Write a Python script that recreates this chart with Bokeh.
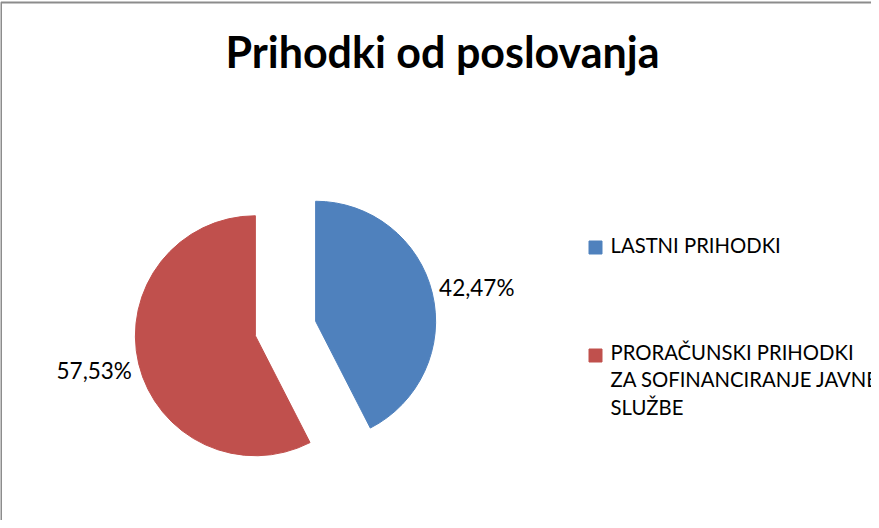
import numpy as np
from bokeh.plotting import figure
from bokeh.models import Range1d
from bokeh.core.properties import value
from bokeh.embed import file_html
from bokeh.resources import INLINE

# ---- data ----
title_text = "Prihodki od poslovanja"
categories = ["LASTNI PRIHODKI", "PRORAČUNSKI PRIHODKI ZA SOFINANCIRANJE JAVNE SLUŽBE"]
legend_lines = [["LASTNI PRIHODKI"], ["PRORAČUNSKI PRIHODKI", "ZA SOFINANCIRANJE JAVNE", "SLUŽBE"]]
shares = [42.47, 57.53]
labels = ["42,47%", "57,53%"]
colors = ["#4F81BD", "#C0504D"]

W, H = 871, 520
FONT = "Lato"

p = figure(width=W, height=H, output_backend="svg", toolbar_location=None,
           x_range=Range1d(0, W), y_range=Range1d(0, H), min_border=0)
p.axis.visible = False
p.grid.visible = False
p.outline_line_color = None
p.background_fill_color = "white"
p.border_fill_color = "white"

def sy(y):  # page-pixel y to data y
    return H - (y - 8)

# chart border (extends beyond the visible window on right & bottom)
p.quad(left=[0.5], right=[3000], top=[sy(10)], bottom=[-3000],
       fill_color=None, line_color="#8C8C8C", line_width=2)

# title
p.text(x=[442], y=[sy(59)], text=[title_text], text_font=value(FONT),
       text_font_style="bold", text_font_size="43px", text_align="center",
       text_baseline="middle", text_color="black")

# pie
cx, cy = 293 - 8, sy(336)
R = 120
explode = 31
fr = np.array(shares) / sum(shares)
ends = np.pi / 2 - np.concatenate([[0], np.cumsum(fr)]) * 2 * np.pi
for i in range(len(shares)):
    a_start = ends[i + 1]
    a_end = ends[i]
    mid = (a_start + a_end) / 2
    ox, oy = cx + explode * np.cos(mid), cy + explode * np.sin(mid)
    p.wedge(x=[ox], y=[oy], radius=R, start_angle=a_start, end_angle=a_end,
            fill_color=colors[i], line_color=colors[i])
    right = np.cos(mid) > 0
    lx, ly = ox + (R + 7) * np.cos(mid), oy + (R + 7) * np.sin(mid)
    p.text(x=[lx], y=[ly], text=[labels[i]], text_font=value(FONT),
           text_font_size="22.5px", text_align="left" if right else "right",
           text_baseline="middle", text_color="black",
           y_offset=-4 if right else 5)

# legend
sq_x = 603 - 8
sq_y = [sy(255), sy(363)]
first_mid = [252, 359]
line_gap = 27.8
for i in range(len(categories)):
    p.scatter(x=[sq_x], y=[sq_y[i]], marker="square", size=13,
              fill_color=colors[i], line_color=colors[i])
    for j, t in enumerate(legend_lines[i]):
        p.text(x=[618 - 8], y=[sy(first_mid[i] + j * line_gap)], text=[t],
               text_font=value(FONT), text_font_size="20.3px", text_align="left",
               text_baseline="middle", text_color="black")

open("out.html", "w").write(file_html(p, INLINE))
